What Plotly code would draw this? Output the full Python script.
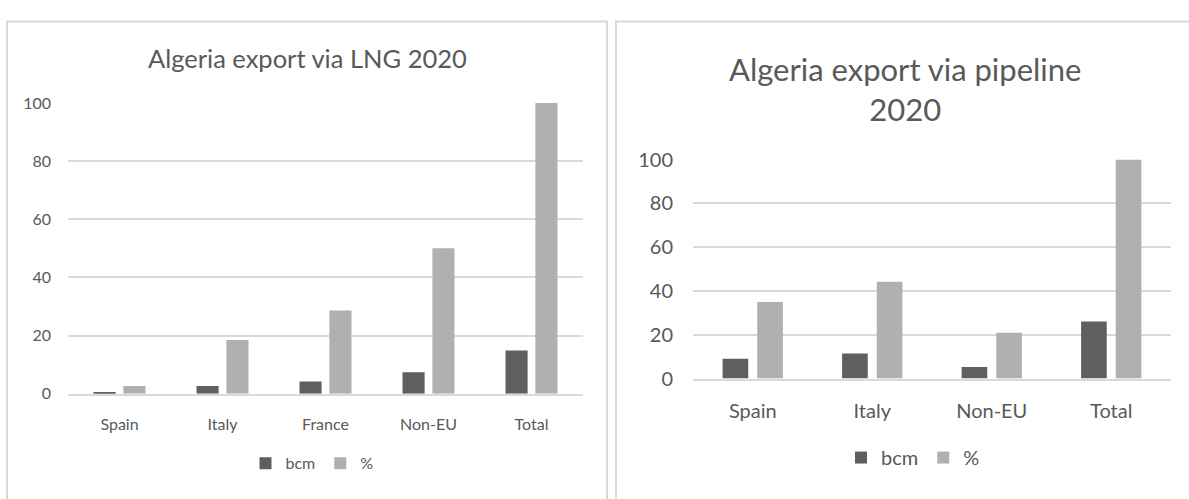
import plotly.graph_objects as go

W, H = 1189, 499

# ---- data ----
lng_categories = ["Spain", "Italy", "France", "Non-EU", "Total"]
lng_bcm = [0.5, 2.7, 4.2, 7.4, 14.9]
lng_pct = [2.7, 18.5, 28.6, 50.0, 100.0]

pipe_categories = ["Spain", "Italy", "Non-EU", "Total"]
pipe_bcm = [9.0, 11.4, 5.3, 26.1]
pipe_pct = [35.0, 44.2, 20.9, 100.0]

y_ticks = [0, 20, 40, 60, 80, 100]
series_names = ["bcm", "%"]
titles = ["Algeria export via LNG 2020", "Algeria export via pipeline<br>2020"]

DARK = "#5f5f5f"
LIGHT = "#b0b0b0"
GRID = "#d9d9d9"
TXT = "#595959"
FONT = "Lato"


def px_x(p):
    return p / W


def px_y(p):
    return 1 - p / H


fig = go.Figure()

fig.add_trace(go.Bar(x=lng_categories, y=lng_bcm, name=series_names[0], marker_color=DARK,
                     xaxis="x", yaxis="y", legend="legend"))
fig.add_trace(go.Bar(x=lng_categories, y=lng_pct, name=series_names[1], marker_color=LIGHT,
                     xaxis="x", yaxis="y", legend="legend"))
fig.add_trace(go.Bar(x=pipe_categories, y=pipe_bcm, name=series_names[0], marker_color=DARK,
                     xaxis="x2", yaxis="y2", legend="legend2"))
fig.add_trace(go.Bar(x=pipe_categories, y=pipe_pct, name=series_names[1], marker_color=LIGHT,
                     xaxis="x2", yaxis="y2", legend="legend2"))

fig.update_traces(marker_line_width=0, hoverinfo="x+y+name")

common_x = dict(type="category", showline=True, linecolor=GRID, linewidth=1.5,
                ticks="", showgrid=False, zeroline=False, fixedrange=True)
common_y = dict(range=[0, 100], tickvals=y_ticks, showgrid=True, gridcolor=GRID,
                gridwidth=1.5, zeroline=False, showline=False, ticks="", fixedrange=True)

fig.update_layout(
    width=W, height=H,
    margin=dict(l=0, r=0, t=0, b=0),
    paper_bgcolor="white", plot_bgcolor="white",
    font=dict(family=FONT, color=TXT),
    barmode="group", bargap=0.42, bargroupgap=0.26,
    xaxis=dict(domain=[px_x(68), px_x(583)], anchor="y",
               tickfont=dict(size=16, color=TXT), ticklabelstandoff=15, **common_x),
    yaxis=dict(domain=[px_y(400), px_y(94.5)], anchor="x",
               tickfont=dict(size=16, color=TXT), ticklabelstandoff=16, **common_y),
    xaxis2=dict(domain=[px_x(693), px_x(1171)], anchor="y2",
                tickfont=dict(size=20, color=TXT), ticklabelstandoff=14, **common_x),
    yaxis2=dict(domain=[px_y(384), px_y(154)], anchor="x2",
                tickfont=dict(size=20, color=TXT), ticklabelstandoff=19, **common_y),
    legend=dict(orientation="h", x=px_x(312), y=px_y(473), xanchor="center", yanchor="middle",
                font=dict(size=16, color=TXT), bgcolor="rgba(0,0,0,0)", itemclick=False),
    legend2=dict(orientation="h", x=px_x(913), y=px_y(467), xanchor="center", yanchor="middle",
                 font=dict(size=20, color=TXT), bgcolor="rgba(0,0,0,0)", itemclick=False),
    showlegend=True,
)

fig.add_annotation(text=titles[0], xref="paper", yref="paper", x=px_x(307), y=px_y(47),
                   xanchor="center", yanchor="middle", showarrow=False,
                   font=dict(size=25.5, color=TXT, family=FONT))
fig.add_annotation(text=titles[1], xref="paper", yref="paper", x=px_x(905), y=px_y(80),
                   xanchor="center", yanchor="middle", showarrow=False,
                   font=dict(size=31, color=TXT, family=FONT))

# chart frames
fig.add_shape(type="rect", xref="paper", yref="paper", x0=px_x(7), x1=px_x(607),
              y0=px_y(520), y1=px_y(9), line=dict(color=GRID, width=2), layer="below")
fig.add_shape(type="rect", xref="paper", yref="paper", x0=px_x(616), x1=px_x(1200),
              y0=px_y(520), y1=px_y(9), line=dict(color=GRID, width=2), layer="below")

fig.write_html(
    "out.html",
    config={"displayModeBar": False},
    post_script="document.body.style.margin='0';document.body.style.overflow='hidden';",
)
